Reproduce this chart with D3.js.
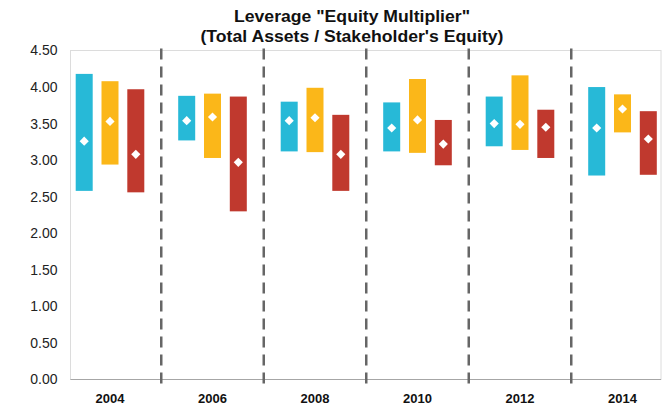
<!DOCTYPE html>
<html>
<head>
<meta charset="utf-8">
<script src="https://cdn.jsdelivr.net/npm/d3@7"></script>
<style>
  body { margin: 0; background: #fff; }
  svg { display: block; font-family: "Liberation Sans", Arial, sans-serif; }
</style>
</head>
<body>
<svg width="666" height="406"></svg>
<script>
// years on the x axis
const years = ["2004", "2006", "2008", "2010", "2012", "2014"];
const series = ["cyan", "yellow", "red"];
const colors = ["#27b9d7", "#fbb719", "#c0392e"];

// low / high / marker per series, one value per year
const cyanLow  = [2.58, 3.27, 3.12, 3.12, 3.19, 2.79];
const cyanHigh = [4.18, 3.88, 3.80, 3.79, 3.87, 4.00];
const cyanMid  = [3.26, 3.54, 3.54, 3.44, 3.50, 3.44];

const yellowLow  = [2.94, 3.03, 3.11, 3.10, 3.14, 3.38];
const yellowHigh = [4.08, 3.91, 3.99, 4.11, 4.16, 3.90];
const yellowMid  = [3.53, 3.59, 3.58, 3.55, 3.49, 3.70];

const redLow  = [2.56, 2.30, 2.58, 2.93, 3.03, 2.80];
const redHigh = [3.97, 3.87, 3.62, 3.55, 3.69, 3.67];
const redMid  = [3.08, 2.97, 3.08, 3.22, 3.45, 3.29];

const yTicks = [0, 0.5, 1, 1.5, 2, 2.5, 3, 3.5, 4, 4.5];

const lows = [cyanLow, yellowLow, redLow];
const highs = [cyanHigh, yellowHigh, redHigh];
const mids = [cyanMid, yellowMid, redMid];

const svg = d3.select("svg");

// plot frame
const plotL = 70.5, plotR = 661, plotT = 50.5, plotB = 379.5;

const x = d3.scaleBand().domain(years).range([58.75, 673.75]).paddingInner(0);
const xs = d3.scalePoint().domain(series).range([-25.8, 25.8]);
const y = d3.scaleLinear().domain([0, 4.5]).range([plotB, plotT]);
const barW = 17;

// title
const title = svg.append("text")
  .attr("x", 352).attr("text-anchor", "middle")
  .style("font-weight", "bold").style("font-size", "17px").attr("fill", "#111");
title.append("tspan").attr("x", 352).attr("y", 22)
  .attr("textLength", 236).attr("lengthAdjust", "spacingAndGlyphs")
  .text('Leverage "Equity Multiplier"');
title.append("tspan").attr("x", 352).attr("y", 42)
  .attr("textLength", 303).attr("lengthAdjust", "spacingAndGlyphs")
  .text("(Total Assets / Stakeholder's Equity)");

// frame box
svg.append("rect")
  .attr("x", plotL).attr("y", plotT)
  .attr("width", plotR - plotL).attr("height", plotB - plotT)
  .attr("fill", "none").attr("stroke", "#dcdcdc").attr("stroke-width", 1);

// y axis labels
const yAxis = svg.append("g")
  .attr("transform", `translate(${plotL},0)`)
  .call(d3.axisLeft(y).tickValues(yTicks).tickFormat(d3.format(".2f")).tickSize(0).tickPadding(13));
yAxis.select(".domain").remove();
yAxis.selectAll("text").style("font-size", "14px").attr("fill", "#222");

// x axis
const xAxis = svg.append("g")
  .attr("transform", `translate(0,${plotB})`)
  .call(d3.axisBottom(x).tickSize(0).tickPadding(14));
xAxis.select(".domain").remove();
xAxis.selectAll("text").style("font-size", "13px").style("font-weight", "bold").attr("fill", "#111");

svg.append("line")
  .attr("x1", plotL).attr("x2", plotR).attr("y1", plotB).attr("y2", plotB)
  .attr("stroke", "#a6a6a6").attr("stroke-width", 1.2);

// dashed separators between years
svg.append("g").selectAll("line")
  .data(years.slice(1))
  .join("line")
  .attr("x1", d => x(d)).attr("x2", d => x(d))
  .attr("y1", plotT - 2).attr("y2", plotB + 4)
  .attr("stroke", "#666").attr("stroke-width", 2.5)
  .attr("stroke-dasharray", "11,7");

// bars and markers
series.forEach((s, si) => {
  const g = svg.append("g");
  g.selectAll("rect")
    .data(years)
    .join("rect")
    .attr("x", (d, i) => x(d) + x.bandwidth() / 2 + xs(s) - barW / 2)
    .attr("y", (d, i) => y(highs[si][i]))
    .attr("width", barW)
    .attr("height", (d, i) => y(lows[si][i]) - y(highs[si][i]))
    .attr("fill", colors[si]);

  g.selectAll("path")
    .data(years)
    .join("path")
    .attr("d", d3.symbol(d3.symbolSquare, 42))
    .attr("transform", (d, i) =>
      `translate(${x(d) + x.bandwidth() / 2 + xs(s)},${y(mids[si][i])}) rotate(45)`)
    .attr("fill", "#fff");
});
</script>
</body>
</html>
